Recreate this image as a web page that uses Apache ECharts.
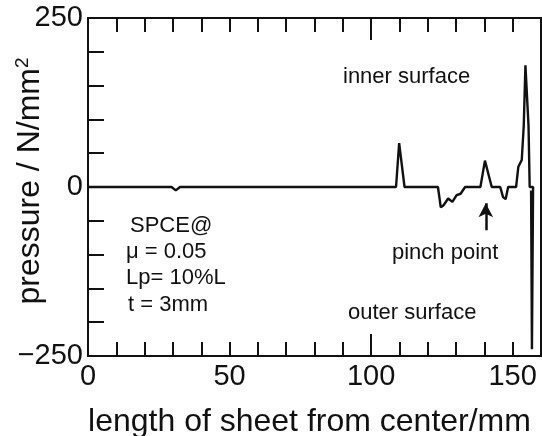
<!DOCTYPE html>
<html>
<head>
<meta charset="utf-8">
<script src="https://cdn.jsdelivr.net/npm/echarts@6/dist/echarts.min.js"></script>
<style>
  html, body { margin: 0; padding: 0; background: #fff; }
  #chart { width: 542px; height: 436px; }
</style>
</head>
<body>
<div id="chart"></div>
<script>
// Contact pressure along the sheet (mm from center) in N/mm^2
const lengthMm = [0, 29.5, 31, 32.5, 108.8, 109.9, 110.5, 111.8, 123.6, 124.6, 125.6, 127.2, 128.7, 130.2, 131.6, 133.2, 138.6, 140.2, 140.8, 142.6, 145.6, 146.6, 147.5, 148.4, 151.2, 152.0, 153.2, 153.9, 154.5, 155.2, 155.6, 156.0, 157.2, 156.8, 156.5];
const pressure = [0, 0, -5, 0, 0, 65, 65, 0, 0, -30, -27, -17, -22, -12, -10, 0, 0, 39, 39, 0, 0, -15, -18, 0, 0, 30, 40, 90, 180, 180, 90, 0, 0, -240, -5];

const xTickLabels = [0, 50, 100, 150];
const yTickLabels = { '250': '250', '0': '0', '-250': '\u2212250' };

const notes = [
  { text: 'inner surface', x: 343, y: 77 },
  { text: 'SPCE@', x: 130, y: 226 },
  { text: '\u03bc = 0.05', x: 126, y: 252 },
  { text: 'Lp= 10%L', x: 126, y: 278 },
  { text: 't = 3mm', x: 128, y: 305 },
  { text: 'pinch point', x: 392, y: 253 },
  { text: 'outer surface', x: 348, y: 313 }
];
// pinch point arrow, tail to head, in data units
const pinchArrow = [[140.5, -64], [140.5, -24]];

const FONT = '"Liberation Sans", Arial, sans-serif';
const INK = '#111';

const series = lengthMm.map((x, i) => [x, pressure[i]]);

const chart = echarts.init(document.getElementById('chart'), null, { renderer: 'canvas' });

function xAxisDef(pos, interval, tickLen, labels) {
  return {
    type: 'value', position: pos, min: 0, max: 160, interval: interval,
    axisLine: { show: true, onZero: false, lineStyle: { color: INK, width: 2 } },
    axisTick: { show: true, inside: true, length: tickLen, lineStyle: { color: INK, width: 2 } },
    axisLabel: labels ? {
      show: true, margin: 6, color: INK, fontSize: 29, fontFamily: FONT,
      formatter: v => xTickLabels.indexOf(v) >= 0 ? String(v) : ''
    } : { show: false },
    splitLine: { show: false }
  };
}

const bottomAxis = xAxisDef('bottom', 10, 14, true);
bottomAxis.name = 'length of sheet from center/mm';
bottomAxis.nameLocation = 'middle';
bottomAxis.nameGap = 50;
bottomAxis.nameMoveOverlap = false;
bottomAxis.nameTextStyle = { color: INK, fontSize: 32, fontFamily: FONT, padding: [0, 10, 0, 0] };

chart.setOption({
  animation: false,
  backgroundColor: '#fff',
  grid: {
    left: 88, right: 1, top: 18, bottom: 80,
    containLabel: false, outerBoundsMode: 'none',
    show: true, borderColor: INK, borderWidth: 2
  },
  xAxis: [
    bottomAxis,
    xAxisDef('top', 10, 14, false),
    xAxisDef('bottom', 100, 22, false),
    xAxisDef('top', 100, 22, false)
  ],
  yAxis: {
    type: 'value', min: -250, max: 250, interval: 50,
    name: 'pressure / N/mm{sup|2}',
    nameLocation: 'middle', nameGap: 40, nameMoveOverlap: false,
    nameTextStyle: {
      color: INK, fontSize: 32, fontFamily: FONT, padding: [0, 0, 0, 12],
      rich: { sup: { fontSize: 19, fontFamily: FONT, color: INK, verticalAlign: 'top', padding: [0, 0, 16, 0] } }
    },
    axisLine: { show: true, lineStyle: { color: INK, width: 2 } },
    axisTick: { show: true, inside: true, length: 16, lineStyle: { color: INK, width: 2 } },
    axisLabel: {
      color: INK, fontSize: 29, fontFamily: FONT, margin: 5,
      formatter: v => yTickLabels[String(v)] || ''
    },
    splitLine: { show: false }
  },
  series: [{
    type: 'line',
    data: series,
    showSymbol: false,
    lineStyle: { color: INK, width: 2.4 },
    markLine: {
      silent: true,
      symbol: ['none', 'arrow'],
      symbolSize: [11, 14],
      label: { show: false },
      lineStyle: { color: INK, width: 2.5, type: 'solid' },
      data: [[{ coord: pinchArrow[0] }, { coord: pinchArrow[1] }]]
    }
  }],
  graphic: notes.map(n => ({
    type: 'text', x: n.x, y: n.y, silent: true,
    style: { text: n.text, fill: INK, font: '22px ' + FONT, verticalAlign: 'middle' }
  }))
});
</script>
</body>
</html>
